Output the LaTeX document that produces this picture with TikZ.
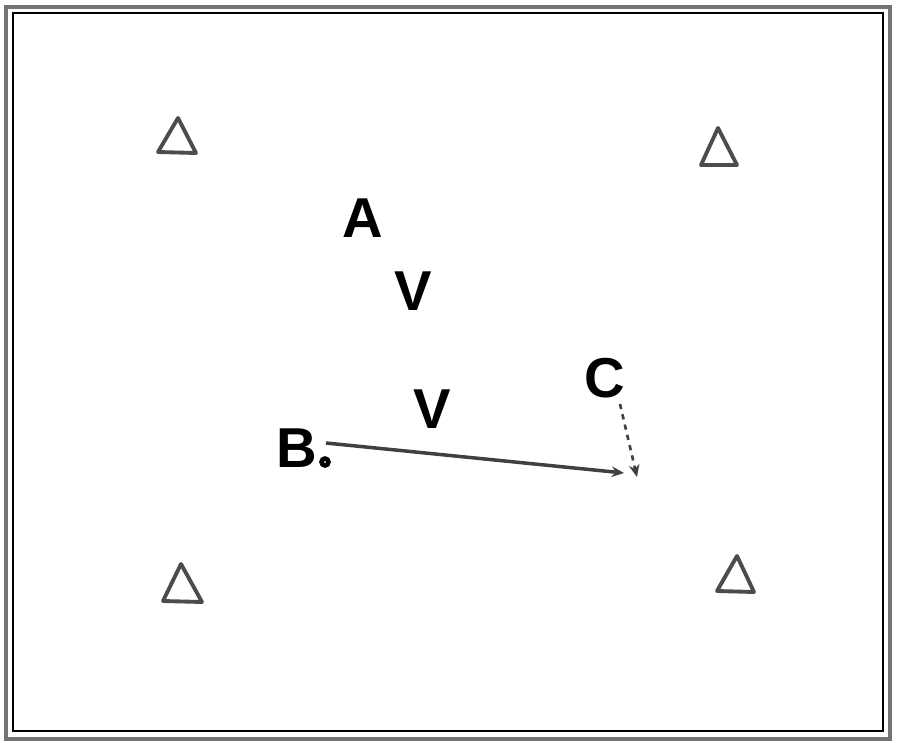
\documentclass[tikz,border=0pt]{standalone}
\usepackage{fontspec}
\setsansfont{Liberation Sans}
\usetikzlibrary{arrows.meta}

\tikzset{
    letter/.style={font=\sffamily\bfseries\fontsize{32}{32}\selectfont, inner sep=0pt},
    cone/.style={draw=black!70, line width=2.2pt, line join=round},
}

\begin{document}
\begin{tikzpicture}[x=0.02cm, y=-0.02cm]
    \useasboundingbox (0,0) rectangle (900,744);
    % frame
    \draw[black!55, line width=2.2pt] (6,7) rectangle (890,739);
    \draw[black, line width=0.9pt] (13,13) rectangle (883,731);
    % cones
    \draw[cone] (178,118) -- (196,153) -- (158,152) -- cycle;
    \draw[cone] (718,128) -- (737,165) -- (701,165) -- cycle;
    \draw[cone] (181,564) -- (202,602) -- (163,601) -- cycle;
    \draw[cone] (737,556) -- (754,592) -- (717,591) -- cycle;
    % players
    \node[letter] (A) at (363,218) {A};
    \node[letter] (V1) at (413,291) {V};
    \node[letter] (V2) at (432,409) {V};
    \node[letter] (B) at (297,448) {B};
    \node[letter] (C) at (605,378) {C};
    \node[circle, draw, line width=2.6pt, inner sep=1.4pt] (ball) at (325,462) {};
    \coordinate (kick) at (326,443);
    \coordinate (pass) at (624,473);
    \coordinate (start) at (620,404);
    \coordinate (run) at (637,477);
    % moves
    \draw[-{Stealth[length=7pt,width=6pt]}, black!75, line width=2pt] (kick) -- (pass);
    \draw[-{Stealth[length=7pt,width=6pt]}, dashed, black!75, line width=1.5pt] (start) -- (run);
\end{tikzpicture}
\end{document}
